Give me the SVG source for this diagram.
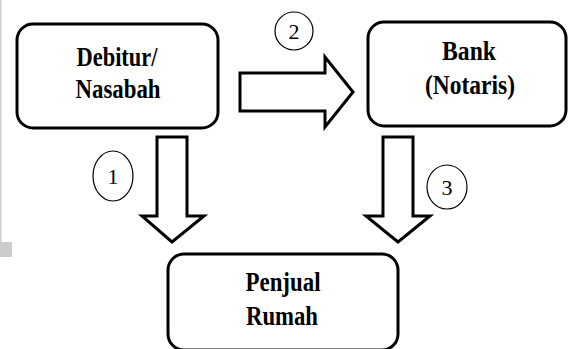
<svg xmlns="http://www.w3.org/2000/svg" width="570" height="349" viewBox="0 0 570 349">
<style>
.box{fill:#fff;stroke:#000;stroke-width:3}
.arr{fill:#fff;stroke:#000;stroke-width:3;stroke-linejoin:miter}
.num{fill:none;stroke:#000;stroke-width:1.2}
.lbl{font-family:'Liberation Serif','DejaVu Serif',serif;font-weight:bold;font-size:28px;text-anchor:middle;fill:#000}
.n{font-family:'Liberation Serif','DejaVu Serif',serif;font-size:22px;text-anchor:middle;fill:#000}
</style>
<rect width="570" height="349" fill="#fff"/>
<rect x="0" y="0" width="1.5" height="242" fill="#cfcfcf"/>
<rect x="0" y="242" width="12" height="15" fill="#cccccc"/>
<g id="debitur">
<rect class="box" x="17" y="24" width="201" height="104" rx="16"/>
<text class="lbl" x="117" y="66" textLength="81" lengthAdjust="spacingAndGlyphs">Debitur/</text>
<text class="lbl" x="118" y="98" textLength="85" lengthAdjust="spacingAndGlyphs">Nasabah</text>
</g>
<g id="bank">
<rect class="box" x="368" y="22" width="198" height="104" rx="16"/>
<text class="lbl" x="469" y="60" textLength="54" lengthAdjust="spacingAndGlyphs">Bank</text>
<text class="lbl" x="470" y="94" textLength="90" lengthAdjust="spacingAndGlyphs">(Notaris)</text>
</g>
<g id="penjual">
<rect class="box" x="168" y="254" width="230" height="96" rx="16"/>
<text class="lbl" x="283" y="291" textLength="75" lengthAdjust="spacingAndGlyphs">Penjual</text>
<text class="lbl" x="282" y="325" textLength="72" lengthAdjust="spacingAndGlyphs">Rumah</text>
</g>
<g id="connectors">
<polygon class="arr" points="157,137 187,137 187,216 204,216 172,242 142,216 157,216"/>
<polygon class="arr" points="240,73 325,73 325,57 353,92 325,127 325,111 240,111"/>
<polygon class="arr" points="383,137 413,137 413,216 430,216 398,242 366,216 383,216"/>
</g>
<g id="step1">
<ellipse class="num" cx="113" cy="176" rx="20" ry="25"/>
<text class="n" x="113" y="184">1</text>
</g>
<g id="step2">
<ellipse class="num" cx="294" cy="31" rx="19" ry="19"/>
<text class="n" x="294" y="39">2</text>
</g>
<g id="step3">
<ellipse class="num" cx="447" cy="187" rx="20" ry="22"/>
<text class="n" x="447" y="195">3</text>
</g>
</svg>
